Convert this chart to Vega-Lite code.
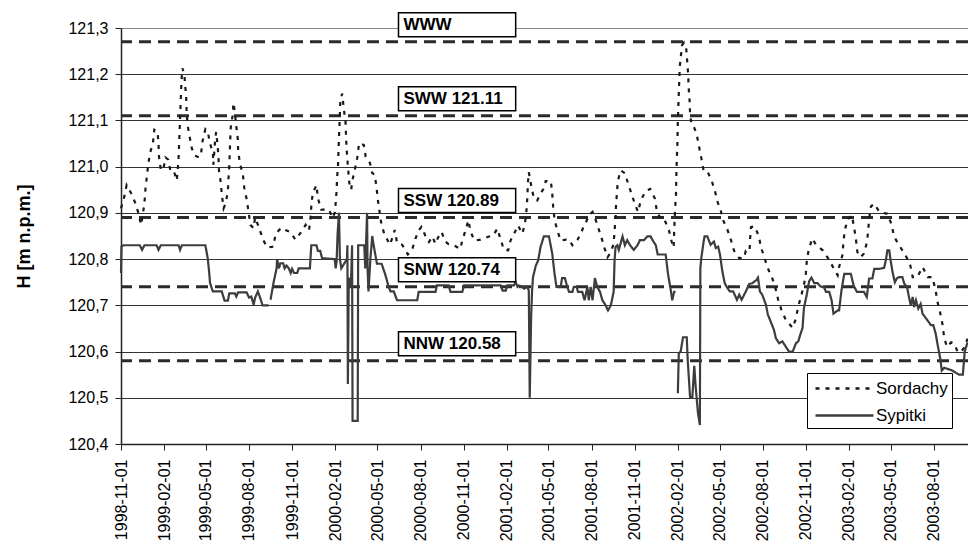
{
  "$schema": "https://vega.github.io/schema/vega-lite/v6.json",
  "width": 847,
  "height": 416,
  "autosize": {"type": "none"},
  "padding": {"left": 121, "top": 28, "right": 0, "bottom": 102},
  "background": "white",
  "config": {
    "view": {"stroke": null},
    "font": "Liberation Sans",
    "axis": {"labelFont": "Liberation Sans", "titleFont": "Liberation Sans", "labelColor": "black", "titleColor": "black"},
    "legend": {
      "orient": "none",
      "legendX": 686,
      "legendY": 345,
      "symbolType": "M-0.7,0H5.1",
      "symbolSize": 400,
      "symbolStrokeWidth": 2.5,
      "labelFontSize": 17,
      "labelFont": "Liberation Sans",
      "labelColor": "black",
      "labelOffset": 42,
      "rowPadding": 7,
      "strokeColor": "black",
      "fillColor": "white",
      "padding": 4
    }
  },
  "datasets": {
    "levels": [
      {"label": "WWW", "level": 121.27},
      {"label": "SWW 121.11", "level": 121.11},
      {"label": "SSW 120.89", "level": 120.89},
      {"label": "SNW 120.74", "level": 120.74},
      {"label": "NNW 120.58", "level": 120.58}
    ],
    "series": [
      {"station": "Sordachy", "date": "1998-11-01", "h": 120.91},
      {"station": "Sordachy", "date": "1998-11-07", "h": 120.93},
      {"station": "Sordachy", "date": "1998-11-13", "h": 120.96},
      {"station": "Sordachy", "date": "1998-11-24", "h": 120.94},
      {"station": "Sordachy", "date": "1998-12-02", "h": 120.92},
      {"station": "Sordachy", "date": "1998-12-08", "h": 120.90},
      {"station": "Sordachy", "date": "1998-12-14", "h": 120.874},
      {"station": "Sordachy", "date": "1998-12-21", "h": 120.92},
      {"station": "Sordachy", "date": "1998-12-23", "h": 120.95},
      {"station": "Sordachy", "date": "1998-12-26", "h": 120.977},
      {"station": "Sordachy", "date": "1998-12-29", "h": 121.004},
      {"station": "Sordachy", "date": "1999-01-02", "h": 121.03},
      {"station": "Sordachy", "date": "1999-01-08", "h": 121.05},
      {"station": "Sordachy", "date": "1999-01-11", "h": 121.08},
      {"station": "Sordachy", "date": "1999-01-18", "h": 121.076},
      {"station": "Sordachy", "date": "1999-01-20", "h": 121.05},
      {"station": "Sordachy", "date": "1999-01-21", "h": 121.022},
      {"station": "Sordachy", "date": "1999-01-25", "h": 120.993},
      {"station": "Sordachy", "date": "1999-01-30", "h": 120.993},
      {"station": "Sordachy", "date": "1999-02-04", "h": 121.02},
      {"station": "Sordachy", "date": "1999-02-10", "h": 121.015},
      {"station": "Sordachy", "date": "1999-02-14", "h": 120.993},
      {"station": "Sordachy", "date": "1999-02-21", "h": 120.993},
      {"station": "Sordachy", "date": "1999-02-28", "h": 120.97},
      {"station": "Sordachy", "date": "1999-03-02", "h": 120.993},
      {"station": "Sordachy", "date": "1999-03-04", "h": 121.022},
      {"station": "Sordachy", "date": "1999-03-05", "h": 121.05},
      {"station": "Sordachy", "date": "1999-03-06", "h": 121.076},
      {"station": "Sordachy", "date": "1999-03-07", "h": 121.105},
      {"station": "Sordachy", "date": "1999-03-08", "h": 121.13},
      {"station": "Sordachy", "date": "1999-03-09", "h": 121.16},
      {"station": "Sordachy", "date": "1999-03-10", "h": 121.186},
      {"station": "Sordachy", "date": "1999-03-12", "h": 121.213},
      {"station": "Sordachy", "date": "1999-03-16", "h": 121.20},
      {"station": "Sordachy", "date": "1999-03-18", "h": 121.176},
      {"station": "Sordachy", "date": "1999-03-20", "h": 121.15},
      {"station": "Sordachy", "date": "1999-03-21", "h": 121.12},
      {"station": "Sordachy", "date": "1999-03-23", "h": 121.09},
      {"station": "Sordachy", "date": "1999-03-27", "h": 121.067},
      {"station": "Sordachy", "date": "1999-04-01", "h": 121.04},
      {"station": "Sordachy", "date": "1999-04-07", "h": 121.024},
      {"station": "Sordachy", "date": "1999-04-17", "h": 121.02},
      {"station": "Sordachy", "date": "1999-04-21", "h": 121.03},
      {"station": "Sordachy", "date": "1999-04-24", "h": 121.055},
      {"station": "Sordachy", "date": "1999-04-30", "h": 121.081},
      {"station": "Sordachy", "date": "1999-05-05", "h": 121.076},
      {"station": "Sordachy", "date": "1999-05-10", "h": 121.05},
      {"station": "Sordachy", "date": "1999-05-16", "h": 121.03},
      {"station": "Sordachy", "date": "1999-05-17", "h": 121.004},
      {"station": "Sordachy", "date": "1999-05-21", "h": 121.06},
      {"station": "Sordachy", "date": "1999-05-23", "h": 121.075},
      {"station": "Sordachy", "date": "1999-05-26", "h": 121.047},
      {"station": "Sordachy", "date": "1999-05-28", "h": 121.02},
      {"station": "Sordachy", "date": "1999-05-29", "h": 120.992},
      {"station": "Sordachy", "date": "1999-06-02", "h": 120.965},
      {"station": "Sordachy", "date": "1999-06-04", "h": 120.94},
      {"station": "Sordachy", "date": "1999-06-08", "h": 120.91},
      {"station": "Sordachy", "date": "1999-06-12", "h": 120.92},
      {"station": "Sordachy", "date": "1999-06-17", "h": 120.946},
      {"station": "Sordachy", "date": "1999-06-18", "h": 120.97},
      {"station": "Sordachy", "date": "1999-06-20", "h": 121.0},
      {"station": "Sordachy", "date": "1999-06-21", "h": 121.03},
      {"station": "Sordachy", "date": "1999-06-22", "h": 121.057},
      {"station": "Sordachy", "date": "1999-06-23", "h": 121.084},
      {"station": "Sordachy", "date": "1999-06-27", "h": 121.11},
      {"station": "Sordachy", "date": "1999-06-29", "h": 121.138},
      {"station": "Sordachy", "date": "1999-07-02", "h": 121.116},
      {"station": "Sordachy", "date": "1999-07-05", "h": 121.087},
      {"station": "Sordachy", "date": "1999-07-08", "h": 121.062},
      {"station": "Sordachy", "date": "1999-07-09", "h": 121.033},
      {"station": "Sordachy", "date": "1999-07-13", "h": 121.006},
      {"station": "Sordachy", "date": "1999-07-19", "h": 120.983},
      {"station": "Sordachy", "date": "1999-07-22", "h": 120.954},
      {"station": "Sordachy", "date": "1999-07-27", "h": 120.93},
      {"station": "Sordachy", "date": "1999-07-31", "h": 120.903},
      {"station": "Sordachy", "date": "1999-08-04", "h": 120.874},
      {"station": "Sordachy", "date": "1999-08-11", "h": 120.867},
      {"station": "Sordachy", "date": "1999-08-14", "h": 120.89},
      {"station": "Sordachy", "date": "1999-08-23", "h": 120.867},
      {"station": "Sordachy", "date": "1999-08-30", "h": 120.844},
      {"station": "Sordachy", "date": "1999-09-09", "h": 120.825},
      {"station": "Sordachy", "date": "1999-09-22", "h": 120.827},
      {"station": "Sordachy", "date": "1999-09-27", "h": 120.855},
      {"station": "Sordachy", "date": "1999-10-09", "h": 120.868},
      {"station": "Sordachy", "date": "1999-10-18", "h": 120.863},
      {"station": "Sordachy", "date": "1999-10-29", "h": 120.858},
      {"station": "Sordachy", "date": "1999-11-08", "h": 120.842},
      {"station": "Sordachy", "date": "1999-11-20", "h": 120.858},
      {"station": "Sordachy", "date": "1999-11-30", "h": 120.874},
      {"station": "Sordachy", "date": "1999-12-07", "h": 120.862},
      {"station": "Sordachy", "date": "1999-12-10", "h": 120.885},
      {"station": "Sordachy", "date": "1999-12-12", "h": 120.914},
      {"station": "Sordachy", "date": "1999-12-15", "h": 120.943},
      {"station": "Sordachy", "date": "1999-12-23", "h": 120.96},
      {"station": "Sordachy", "date": "1999-12-26", "h": 120.932},
      {"station": "Sordachy", "date": "2000-01-02", "h": 120.907},
      {"station": "Sordachy", "date": "2000-01-19", "h": 120.907},
      {"station": "Sordachy", "date": "2000-01-26", "h": 120.889},
      {"station": "Sordachy", "date": "2000-01-31", "h": 120.90},
      {"station": "Sordachy", "date": "2000-02-02", "h": 120.921},
      {"station": "Sordachy", "date": "2000-02-04", "h": 120.949},
      {"station": "Sordachy", "date": "2000-02-05", "h": 120.975},
      {"station": "Sordachy", "date": "2000-02-07", "h": 121.004},
      {"station": "Sordachy", "date": "2000-02-08", "h": 121.033},
      {"station": "Sordachy", "date": "2000-02-09", "h": 121.062},
      {"station": "Sordachy", "date": "2000-02-10", "h": 121.087},
      {"station": "Sordachy", "date": "2000-02-11", "h": 121.114},
      {"station": "Sordachy", "date": "2000-02-12", "h": 121.145},
      {"station": "Sordachy", "date": "2000-02-16", "h": 121.158},
      {"station": "Sordachy", "date": "2000-02-19", "h": 121.127},
      {"station": "Sordachy", "date": "2000-02-23", "h": 121.098},
      {"station": "Sordachy", "date": "2000-02-24", "h": 121.07},
      {"station": "Sordachy", "date": "2000-02-25", "h": 121.044},
      {"station": "Sordachy", "date": "2000-02-27", "h": 121.015},
      {"station": "Sordachy", "date": "2000-02-29", "h": 120.99},
      {"station": "Sordachy", "date": "2000-03-02", "h": 120.965},
      {"station": "Sordachy", "date": "2000-03-06", "h": 120.95},
      {"station": "Sordachy", "date": "2000-03-09", "h": 120.972},
      {"station": "Sordachy", "date": "2000-03-13", "h": 120.99},
      {"station": "Sordachy", "date": "2000-03-19", "h": 121.019},
      {"station": "Sordachy", "date": "2000-03-23", "h": 121.051},
      {"station": "Sordachy", "date": "2000-04-02", "h": 121.047},
      {"station": "Sordachy", "date": "2000-04-06", "h": 121.022},
      {"station": "Sordachy", "date": "2000-04-15", "h": 121.008},
      {"station": "Sordachy", "date": "2000-04-20", "h": 120.986},
      {"station": "Sordachy", "date": "2000-04-25", "h": 120.983},
      {"station": "Sordachy", "date": "2000-04-29", "h": 120.957},
      {"station": "Sordachy", "date": "2000-05-02", "h": 120.928},
      {"station": "Sordachy", "date": "2000-05-06", "h": 120.90},
      {"station": "Sordachy", "date": "2000-05-09", "h": 120.879},
      {"station": "Sordachy", "date": "2000-05-16", "h": 120.853},
      {"station": "Sordachy", "date": "2000-05-28", "h": 120.831},
      {"station": "Sordachy", "date": "2000-06-02", "h": 120.847},
      {"station": "Sordachy", "date": "2000-06-07", "h": 120.863},
      {"station": "Sordachy", "date": "2000-06-12", "h": 120.835},
      {"station": "Sordachy", "date": "2000-06-23", "h": 120.831},
      {"station": "Sordachy", "date": "2000-07-05", "h": 120.81},
      {"station": "Sordachy", "date": "2000-07-14", "h": 120.82},
      {"station": "Sordachy", "date": "2000-07-21", "h": 120.844},
      {"station": "Sordachy", "date": "2000-07-28", "h": 120.862},
      {"station": "Sordachy", "date": "2000-08-03", "h": 120.87},
      {"station": "Sordachy", "date": "2000-08-08", "h": 120.859},
      {"station": "Sordachy", "date": "2000-08-12", "h": 120.848},
      {"station": "Sordachy", "date": "2000-08-19", "h": 120.837},
      {"station": "Sordachy", "date": "2000-08-26", "h": 120.849},
      {"station": "Sordachy", "date": "2000-09-02", "h": 120.833},
      {"station": "Sordachy", "date": "2000-09-07", "h": 120.846},
      {"station": "Sordachy", "date": "2000-09-15", "h": 120.859},
      {"station": "Sordachy", "date": "2000-09-22", "h": 120.839},
      {"station": "Sordachy", "date": "2000-09-30", "h": 120.832},
      {"station": "Sordachy", "date": "2000-10-11", "h": 120.83},
      {"station": "Sordachy", "date": "2000-10-25", "h": 120.822},
      {"station": "Sordachy", "date": "2000-10-29", "h": 120.84},
      {"station": "Sordachy", "date": "2000-11-05", "h": 120.862},
      {"station": "Sordachy", "date": "2000-11-11", "h": 120.884},
      {"station": "Sordachy", "date": "2000-11-16", "h": 120.859},
      {"station": "Sordachy", "date": "2000-11-24", "h": 120.84},
      {"station": "Sordachy", "date": "2000-12-07", "h": 120.842},
      {"station": "Sordachy", "date": "2000-12-25", "h": 120.849},
      {"station": "Sordachy", "date": "2001-01-03", "h": 120.851},
      {"station": "Sordachy", "date": "2001-01-12", "h": 120.866},
      {"station": "Sordachy", "date": "2001-01-19", "h": 120.842},
      {"station": "Sordachy", "date": "2001-01-26", "h": 120.82},
      {"station": "Sordachy", "date": "2001-02-04", "h": 120.819},
      {"station": "Sordachy", "date": "2001-02-09", "h": 120.84},
      {"station": "Sordachy", "date": "2001-02-20", "h": 120.862},
      {"station": "Sordachy", "date": "2001-02-25", "h": 120.873},
      {"station": "Sordachy", "date": "2001-03-06", "h": 120.855},
      {"station": "Sordachy", "date": "2001-03-11", "h": 120.873},
      {"station": "Sordachy", "date": "2001-03-13", "h": 120.887},
      {"station": "Sordachy", "date": "2001-03-15", "h": 120.905},
      {"station": "Sordachy", "date": "2001-03-17", "h": 120.934},
      {"station": "Sordachy", "date": "2001-03-18", "h": 120.963},
      {"station": "Sordachy", "date": "2001-03-20", "h": 120.988},
      {"station": "Sordachy", "date": "2001-03-25", "h": 120.96},
      {"station": "Sordachy", "date": "2001-03-31", "h": 120.931},
      {"station": "Sordachy", "date": "2001-04-07", "h": 120.927},
      {"station": "Sordachy", "date": "2001-04-14", "h": 120.942},
      {"station": "Sordachy", "date": "2001-04-23", "h": 120.956},
      {"station": "Sordachy", "date": "2001-04-25", "h": 120.969},
      {"station": "Sordachy", "date": "2001-05-06", "h": 120.969},
      {"station": "Sordachy", "date": "2001-05-09", "h": 120.942},
      {"station": "Sordachy", "date": "2001-05-11", "h": 120.913},
      {"station": "Sordachy", "date": "2001-05-14", "h": 120.885},
      {"station": "Sordachy", "date": "2001-05-20", "h": 120.862},
      {"station": "Sordachy", "date": "2001-05-27", "h": 120.84},
      {"station": "Sordachy", "date": "2001-06-07", "h": 120.842},
      {"station": "Sordachy", "date": "2001-06-14", "h": 120.842},
      {"station": "Sordachy", "date": "2001-06-21", "h": 120.83},
      {"station": "Sordachy", "date": "2001-07-02", "h": 120.842},
      {"station": "Sordachy", "date": "2001-07-09", "h": 120.855},
      {"station": "Sordachy", "date": "2001-07-14", "h": 120.868},
      {"station": "Sordachy", "date": "2001-07-19", "h": 120.877},
      {"station": "Sordachy", "date": "2001-07-26", "h": 120.895},
      {"station": "Sordachy", "date": "2001-08-03", "h": 120.902},
      {"station": "Sordachy", "date": "2001-08-10", "h": 120.884},
      {"station": "Sordachy", "date": "2001-08-17", "h": 120.862},
      {"station": "Sordachy", "date": "2001-08-24", "h": 120.84},
      {"station": "Sordachy", "date": "2001-08-29", "h": 120.822},
      {"station": "Sordachy", "date": "2001-09-04", "h": 120.804},
      {"station": "Sordachy", "date": "2001-09-11", "h": 120.815},
      {"station": "Sordachy", "date": "2001-09-17", "h": 120.833},
      {"station": "Sordachy", "date": "2001-09-19", "h": 120.862},
      {"station": "Sordachy", "date": "2001-09-21", "h": 120.887},
      {"station": "Sordachy", "date": "2001-09-22", "h": 120.914},
      {"station": "Sordachy", "date": "2001-09-24", "h": 120.943},
      {"station": "Sordachy", "date": "2001-09-26", "h": 120.969},
      {"station": "Sordachy", "date": "2001-10-02", "h": 120.992},
      {"station": "Sordachy", "date": "2001-10-11", "h": 120.986},
      {"station": "Sordachy", "date": "2001-10-18", "h": 120.963},
      {"station": "Sordachy", "date": "2001-10-25", "h": 120.942},
      {"station": "Sordachy", "date": "2001-11-01", "h": 120.92},
      {"station": "Sordachy", "date": "2001-11-08", "h": 120.902},
      {"station": "Sordachy", "date": "2001-11-14", "h": 120.927},
      {"station": "Sordachy", "date": "2001-11-24", "h": 120.947},
      {"station": "Sordachy", "date": "2001-12-04", "h": 120.952},
      {"station": "Sordachy", "date": "2001-12-14", "h": 120.931},
      {"station": "Sordachy", "date": "2001-12-18", "h": 120.905},
      {"station": "Sordachy", "date": "2001-12-27", "h": 120.885},
      {"station": "Sordachy", "date": "2002-01-04", "h": 120.884},
      {"station": "Sordachy", "date": "2002-01-13", "h": 120.862},
      {"station": "Sordachy", "date": "2002-01-19", "h": 120.837},
      {"station": "Sordachy", "date": "2002-01-23", "h": 120.825},
      {"station": "Sordachy", "date": "2002-01-24", "h": 120.855},
      {"station": "Sordachy", "date": "2002-01-25", "h": 120.882},
      {"station": "Sordachy", "date": "2002-01-26", "h": 120.906},
      {"station": "Sordachy", "date": "2002-01-28", "h": 120.94},
      {"station": "Sordachy", "date": "2002-01-29", "h": 120.993},
      {"station": "Sordachy", "date": "2002-01-31", "h": 121.05},
      {"station": "Sordachy", "date": "2002-02-01", "h": 121.1},
      {"station": "Sordachy", "date": "2002-02-03", "h": 121.159},
      {"station": "Sordachy", "date": "2002-02-05", "h": 121.216},
      {"station": "Sordachy", "date": "2002-02-10", "h": 121.263},
      {"station": "Sordachy", "date": "2002-02-14", "h": 121.268},
      {"station": "Sordachy", "date": "2002-02-19", "h": 121.254},
      {"station": "Sordachy", "date": "2002-02-21", "h": 121.227},
      {"station": "Sordachy", "date": "2002-02-23", "h": 121.2},
      {"station": "Sordachy", "date": "2002-02-24", "h": 121.172},
      {"station": "Sordachy", "date": "2002-02-26", "h": 121.144},
      {"station": "Sordachy", "date": "2002-02-27", "h": 121.116},
      {"station": "Sordachy", "date": "2002-03-02", "h": 121.091},
      {"station": "Sordachy", "date": "2002-03-08", "h": 121.084},
      {"station": "Sordachy", "date": "2002-03-13", "h": 121.071},
      {"station": "Sordachy", "date": "2002-03-18", "h": 121.044},
      {"station": "Sordachy", "date": "2002-03-23", "h": 121.019},
      {"station": "Sordachy", "date": "2002-03-28", "h": 120.991},
      {"station": "Sordachy", "date": "2002-04-05", "h": 120.99},
      {"station": "Sordachy", "date": "2002-04-14", "h": 120.97},
      {"station": "Sordachy", "date": "2002-04-21", "h": 120.948},
      {"station": "Sordachy", "date": "2002-04-27", "h": 120.923},
      {"station": "Sordachy", "date": "2002-05-04", "h": 120.903},
      {"station": "Sordachy", "date": "2002-05-09", "h": 120.883},
      {"station": "Sordachy", "date": "2002-05-18", "h": 120.863},
      {"station": "Sordachy", "date": "2002-05-25", "h": 120.842},
      {"station": "Sordachy", "date": "2002-06-01", "h": 120.818},
      {"station": "Sordachy", "date": "2002-06-12", "h": 120.802},
      {"station": "Sordachy", "date": "2002-06-22", "h": 120.802},
      {"station": "Sordachy", "date": "2002-06-26", "h": 120.818},
      {"station": "Sordachy", "date": "2002-07-04", "h": 120.817},
      {"station": "Sordachy", "date": "2002-07-05", "h": 120.842},
      {"station": "Sordachy", "date": "2002-07-07", "h": 120.869},
      {"station": "Sordachy", "date": "2002-07-15", "h": 120.871},
      {"station": "Sordachy", "date": "2002-07-24", "h": 120.849},
      {"station": "Sordachy", "date": "2002-07-28", "h": 120.827},
      {"station": "Sordachy", "date": "2002-08-05", "h": 120.802},
      {"station": "Sordachy", "date": "2002-08-12", "h": 120.78},
      {"station": "Sordachy", "date": "2002-08-22", "h": 120.757},
      {"station": "Sordachy", "date": "2002-08-29", "h": 120.734},
      {"station": "Sordachy", "date": "2002-09-03", "h": 120.712},
      {"station": "Sordachy", "date": "2002-09-10", "h": 120.69},
      {"station": "Sordachy", "date": "2002-09-19", "h": 120.669},
      {"station": "Sordachy", "date": "2002-10-04", "h": 120.651},
      {"station": "Sordachy", "date": "2002-10-11", "h": 120.672},
      {"station": "Sordachy", "date": "2002-10-15", "h": 120.694},
      {"station": "Sordachy", "date": "2002-10-23", "h": 120.724},
      {"station": "Sordachy", "date": "2002-10-28", "h": 120.744},
      {"station": "Sordachy", "date": "2002-11-01", "h": 120.768},
      {"station": "Sordachy", "date": "2002-11-03", "h": 120.795},
      {"station": "Sordachy", "date": "2002-11-07", "h": 120.82},
      {"station": "Sordachy", "date": "2002-11-15", "h": 120.845},
      {"station": "Sordachy", "date": "2002-11-22", "h": 120.832},
      {"station": "Sordachy", "date": "2002-12-07", "h": 120.819},
      {"station": "Sordachy", "date": "2002-12-19", "h": 120.801},
      {"station": "Sordachy", "date": "2002-12-30", "h": 120.781},
      {"station": "Sordachy", "date": "2003-01-08", "h": 120.765},
      {"station": "Sordachy", "date": "2003-01-11", "h": 120.783},
      {"station": "Sordachy", "date": "2003-01-18", "h": 120.808},
      {"station": "Sordachy", "date": "2003-01-20", "h": 120.833},
      {"station": "Sordachy", "date": "2003-01-23", "h": 120.862},
      {"station": "Sordachy", "date": "2003-01-29", "h": 120.885},
      {"station": "Sordachy", "date": "2003-02-07", "h": 120.895},
      {"station": "Sordachy", "date": "2003-02-12", "h": 120.869},
      {"station": "Sordachy", "date": "2003-02-16", "h": 120.842},
      {"station": "Sordachy", "date": "2003-02-19", "h": 120.815},
      {"station": "Sordachy", "date": "2003-02-26", "h": 120.804},
      {"station": "Sordachy", "date": "2003-03-05", "h": 120.812},
      {"station": "Sordachy", "date": "2003-03-11", "h": 120.835},
      {"station": "Sordachy", "date": "2003-03-14", "h": 120.859},
      {"station": "Sordachy", "date": "2003-03-16", "h": 120.887},
      {"station": "Sordachy", "date": "2003-03-20", "h": 120.914},
      {"station": "Sordachy", "date": "2003-03-27", "h": 120.92},
      {"station": "Sordachy", "date": "2003-04-07", "h": 120.902},
      {"station": "Sordachy", "date": "2003-04-24", "h": 120.898},
      {"station": "Sordachy", "date": "2003-05-03", "h": 120.875},
      {"station": "Sordachy", "date": "2003-05-08", "h": 120.849},
      {"station": "Sordachy", "date": "2003-05-19", "h": 120.83},
      {"station": "Sordachy", "date": "2003-06-02", "h": 120.808},
      {"station": "Sordachy", "date": "2003-06-12", "h": 120.786},
      {"station": "Sordachy", "date": "2003-06-17", "h": 120.761},
      {"station": "Sordachy", "date": "2003-06-27", "h": 120.761},
      {"station": "Sordachy", "date": "2003-07-08", "h": 120.783},
      {"station": "Sordachy", "date": "2003-07-19", "h": 120.761},
      {"station": "Sordachy", "date": "2003-07-29", "h": 120.761},
      {"station": "Sordachy", "date": "2003-08-05", "h": 120.732},
      {"station": "Sordachy", "date": "2003-08-09", "h": 120.707},
      {"station": "Sordachy", "date": "2003-08-15", "h": 120.682},
      {"station": "Sordachy", "date": "2003-08-20", "h": 120.657},
      {"station": "Sordachy", "date": "2003-08-23", "h": 120.631},
      {"station": "Sordachy", "date": "2003-08-29", "h": 120.61},
      {"station": "Sordachy", "date": "2003-09-07", "h": 120.62},
      {"station": "Sordachy", "date": "2003-09-14", "h": 120.617},
      {"station": "Sordachy", "date": "2003-09-21", "h": 120.599},
      {"station": "Sordachy", "date": "2003-09-28", "h": 120.599},
      {"station": "Sordachy", "date": "2003-10-06", "h": 120.61},
      {"station": "Sordachy", "date": "2003-10-12", "h": 120.628},
      {"station": "Sypitki", "date": "1998-11-01", "h": 120.77},
      {"station": "Sypitki", "date": "1998-11-02", "h": 120.827},
      {"station": "Sypitki", "date": "1998-11-06", "h": 120.83},
      {"station": "Sypitki", "date": "1998-12-11", "h": 120.83},
      {"station": "Sypitki", "date": "1998-12-16", "h": 120.82},
      {"station": "Sypitki", "date": "1998-12-21", "h": 120.83},
      {"station": "Sypitki", "date": "1999-01-16", "h": 120.83},
      {"station": "Sypitki", "date": "1999-01-20", "h": 120.82},
      {"station": "Sypitki", "date": "1999-01-25", "h": 120.83},
      {"station": "Sypitki", "date": "1999-03-04", "h": 120.83},
      {"station": "Sypitki", "date": "1999-03-07", "h": 120.82},
      {"station": "Sypitki", "date": "1999-03-11", "h": 120.83},
      {"station": "Sypitki", "date": "1999-04-30", "h": 120.83},
      {"station": "Sypitki", "date": "1999-05-05", "h": 120.802},
      {"station": "Sypitki", "date": "1999-05-08", "h": 120.773},
      {"station": "Sypitki", "date": "1999-05-10", "h": 120.748},
      {"station": "Sypitki", "date": "1999-05-16", "h": 120.73},
      {"station": "Sypitki", "date": "1999-06-04", "h": 120.73},
      {"station": "Sypitki", "date": "1999-06-10", "h": 120.71},
      {"station": "Sypitki", "date": "1999-06-17", "h": 120.71},
      {"station": "Sypitki", "date": "1999-06-20", "h": 120.726},
      {"station": "Sypitki", "date": "1999-07-02", "h": 120.726},
      {"station": "Sypitki", "date": "1999-07-05", "h": 120.719},
      {"station": "Sypitki", "date": "1999-07-09", "h": 120.728},
      {"station": "Sypitki", "date": "1999-07-27", "h": 120.728},
      {"station": "Sypitki", "date": "1999-08-01", "h": 120.717},
      {"station": "Sypitki", "date": "1999-08-06", "h": 120.719},
      {"station": "Sypitki", "date": "1999-08-11", "h": 120.701},
      {"station": "Sypitki", "date": "1999-08-14", "h": 120.716},
      {"station": "Sypitki", "date": "1999-08-20", "h": 120.73},
      {"station": "Sypitki", "date": "1999-08-25", "h": 120.716},
      {"station": "Sypitki", "date": "1999-08-30", "h": 120.70},
      {"station": "Sypitki", "date": "1999-09-12", "h": 120.70},
      {"station": "Sypitki", "date": "1999-09-14", "h": null},
      {"station": "Sypitki", "date": "1999-09-16", "h": 120.712},
      {"station": "Sypitki", "date": "1999-09-23", "h": 120.752},
      {"station": "Sypitki", "date": "1999-09-29", "h": 120.78},
      {"station": "Sypitki", "date": "1999-09-30", "h": 120.80},
      {"station": "Sypitki", "date": "1999-10-04", "h": 120.78},
      {"station": "Sypitki", "date": "1999-10-07", "h": 120.791},
      {"station": "Sypitki", "date": "1999-10-13", "h": 120.791},
      {"station": "Sypitki", "date": "1999-10-16", "h": 120.78},
      {"station": "Sypitki", "date": "1999-10-20", "h": 120.786},
      {"station": "Sypitki", "date": "1999-10-25", "h": 120.78},
      {"station": "Sypitki", "date": "1999-10-29", "h": 120.77},
      {"station": "Sypitki", "date": "1999-11-01", "h": 120.779},
      {"station": "Sypitki", "date": "1999-11-05", "h": 120.77},
      {"station": "Sypitki", "date": "1999-11-12", "h": 120.77},
      {"station": "Sypitki", "date": "1999-11-15", "h": 120.78},
      {"station": "Sypitki", "date": "1999-12-09", "h": 120.78},
      {"station": "Sypitki", "date": "1999-12-12", "h": 120.83},
      {"station": "Sypitki", "date": "1999-12-23", "h": 120.83},
      {"station": "Sypitki", "date": "1999-12-26", "h": 120.818},
      {"station": "Sypitki", "date": "1999-12-31", "h": 120.818},
      {"station": "Sypitki", "date": "2000-01-04", "h": 120.802},
      {"station": "Sypitki", "date": "2000-01-31", "h": 120.80},
      {"station": "Sypitki", "date": "2000-02-02", "h": 120.78},
      {"station": "Sypitki", "date": "2000-02-04", "h": 120.795},
      {"station": "Sypitki", "date": "2000-02-06", "h": 120.853},
      {"station": "Sypitki", "date": "2000-02-09", "h": 120.90},
      {"station": "Sypitki", "date": "2000-02-11", "h": 120.80},
      {"station": "Sypitki", "date": "2000-02-14", "h": 120.78},
      {"station": "Sypitki", "date": "2000-02-26", "h": 120.80},
      {"station": "Sypitki", "date": "2000-02-27", "h": 120.83},
      {"station": "Sypitki", "date": "2000-02-28", "h": 120.53},
      {"station": "Sypitki", "date": "2000-03-01", "h": 120.76},
      {"station": "Sypitki", "date": "2000-03-03", "h": 120.74},
      {"station": "Sypitki", "date": "2000-03-06", "h": 120.76},
      {"station": "Sypitki", "date": "2000-03-08", "h": 120.83},
      {"station": "Sypitki", "date": "2000-03-09", "h": 120.45},
      {"station": "Sypitki", "date": "2000-03-20", "h": 120.45},
      {"station": "Sypitki", "date": "2000-03-21", "h": 120.83},
      {"station": "Sypitki", "date": "2000-04-03", "h": 120.83},
      {"station": "Sypitki", "date": "2000-04-05", "h": 120.78},
      {"station": "Sypitki", "date": "2000-04-09", "h": 120.90},
      {"station": "Sypitki", "date": "2000-04-10", "h": 120.78},
      {"station": "Sypitki", "date": "2000-04-12", "h": 120.73},
      {"station": "Sypitki", "date": "2000-04-16", "h": 120.80},
      {"station": "Sypitki", "date": "2000-04-20", "h": 120.85},
      {"station": "Sypitki", "date": "2000-04-23", "h": 120.83},
      {"station": "Sypitki", "date": "2000-04-30", "h": 120.79},
      {"station": "Sypitki", "date": "2000-05-10", "h": 120.79},
      {"station": "Sypitki", "date": "2000-05-18", "h": 120.766},
      {"station": "Sypitki", "date": "2000-05-25", "h": 120.74},
      {"station": "Sypitki", "date": "2000-05-29", "h": 120.73},
      {"station": "Sypitki", "date": "2000-06-05", "h": 120.73},
      {"station": "Sypitki", "date": "2000-06-09", "h": 120.719},
      {"station": "Sypitki", "date": "2000-06-12", "h": 120.711},
      {"station": "Sypitki", "date": "2000-07-25", "h": 120.711},
      {"station": "Sypitki", "date": "2000-07-28", "h": 120.729},
      {"station": "Sypitki", "date": "2000-09-02", "h": 120.729},
      {"station": "Sypitki", "date": "2000-09-05", "h": 120.743},
      {"station": "Sypitki", "date": "2000-09-30", "h": 120.743},
      {"station": "Sypitki", "date": "2000-10-04", "h": 120.729},
      {"station": "Sypitki", "date": "2000-10-29", "h": 120.729},
      {"station": "Sypitki", "date": "2000-11-02", "h": 120.743},
      {"station": "Sypitki", "date": "2001-01-19", "h": 120.743},
      {"station": "Sypitki", "date": "2001-01-23", "h": 120.732},
      {"station": "Sypitki", "date": "2001-01-30", "h": 120.732},
      {"station": "Sypitki", "date": "2001-02-02", "h": 120.743},
      {"station": "Sypitki", "date": "2001-02-16", "h": 120.743},
      {"station": "Sypitki", "date": "2001-02-20", "h": 120.75},
      {"station": "Sypitki", "date": "2001-02-24", "h": 120.74},
      {"station": "Sypitki", "date": "2001-02-27", "h": 120.743},
      {"station": "Sypitki", "date": "2001-03-06", "h": 120.74},
      {"station": "Sypitki", "date": "2001-03-10", "h": 120.736},
      {"station": "Sypitki", "date": "2001-03-17", "h": 120.74},
      {"station": "Sypitki", "date": "2001-03-20", "h": 120.732},
      {"station": "Sypitki", "date": "2001-03-22", "h": 120.50},
      {"station": "Sypitki", "date": "2001-03-25", "h": 120.675},
      {"station": "Sypitki", "date": "2001-03-27", "h": 120.732},
      {"station": "Sypitki", "date": "2001-03-29", "h": 120.761},
      {"station": "Sypitki", "date": "2001-04-04", "h": 120.786},
      {"station": "Sypitki", "date": "2001-04-09", "h": 120.797},
      {"station": "Sypitki", "date": "2001-04-14", "h": 120.826},
      {"station": "Sypitki", "date": "2001-04-21", "h": 120.849},
      {"station": "Sypitki", "date": "2001-05-02", "h": 120.849},
      {"station": "Sypitki", "date": "2001-05-09", "h": 120.812},
      {"station": "Sypitki", "date": "2001-05-14", "h": 120.768},
      {"station": "Sypitki", "date": "2001-05-18", "h": 120.74},
      {"station": "Sypitki", "date": "2001-05-27", "h": 120.74},
      {"station": "Sypitki", "date": "2001-05-30", "h": 120.759},
      {"station": "Sypitki", "date": "2001-06-05", "h": 120.759},
      {"station": "Sypitki", "date": "2001-06-10", "h": 120.74},
      {"station": "Sypitki", "date": "2001-06-14", "h": 120.729},
      {"station": "Sypitki", "date": "2001-06-21", "h": 120.729},
      {"station": "Sypitki", "date": "2001-06-24", "h": 120.74},
      {"station": "Sypitki", "date": "2001-06-30", "h": 120.74},
      {"station": "Sypitki", "date": "2001-07-03", "h": 120.729},
      {"station": "Sypitki", "date": "2001-07-12", "h": 120.729},
      {"station": "Sypitki", "date": "2001-07-17", "h": 120.711},
      {"station": "Sypitki", "date": "2001-07-23", "h": 120.74},
      {"station": "Sypitki", "date": "2001-07-26", "h": 120.711},
      {"station": "Sypitki", "date": "2001-07-30", "h": 120.74},
      {"station": "Sypitki", "date": "2001-08-03", "h": 120.711},
      {"station": "Sypitki", "date": "2001-08-08", "h": 120.759},
      {"station": "Sypitki", "date": "2001-08-13", "h": 120.74},
      {"station": "Sypitki", "date": "2001-08-19", "h": 120.729},
      {"station": "Sypitki", "date": "2001-08-24", "h": 120.711},
      {"station": "Sypitki", "date": "2001-08-31", "h": 120.70},
      {"station": "Sypitki", "date": "2001-09-05", "h": 120.689},
      {"station": "Sypitki", "date": "2001-09-11", "h": 120.70},
      {"station": "Sypitki", "date": "2001-09-17", "h": 120.729},
      {"station": "Sypitki", "date": "2001-09-19", "h": 120.797},
      {"station": "Sypitki", "date": "2001-09-21", "h": 120.826},
      {"station": "Sypitki", "date": "2001-09-25", "h": 120.83},
      {"station": "Sypitki", "date": "2001-09-28", "h": 120.82},
      {"station": "Sypitki", "date": "2001-10-06", "h": 120.849},
      {"station": "Sypitki", "date": "2001-10-11", "h": 120.83},
      {"station": "Sypitki", "date": "2001-10-16", "h": 120.841},
      {"station": "Sypitki", "date": "2001-10-22", "h": 120.83},
      {"station": "Sypitki", "date": "2001-10-30", "h": 120.82},
      {"station": "Sypitki", "date": "2001-11-07", "h": 120.83},
      {"station": "Sypitki", "date": "2001-11-12", "h": 120.841},
      {"station": "Sypitki", "date": "2001-11-21", "h": 120.841},
      {"station": "Sypitki", "date": "2001-11-28", "h": 120.849},
      {"station": "Sypitki", "date": "2001-12-05", "h": 120.849},
      {"station": "Sypitki", "date": "2001-12-09", "h": 120.841},
      {"station": "Sypitki", "date": "2001-12-16", "h": 120.83},
      {"station": "Sypitki", "date": "2001-12-20", "h": 120.81},
      {"station": "Sypitki", "date": "2002-01-06", "h": 120.81},
      {"station": "Sypitki", "date": "2002-01-11", "h": 120.768},
      {"station": "Sypitki", "date": "2002-01-17", "h": 120.732},
      {"station": "Sypitki", "date": "2002-01-20", "h": 120.711},
      {"station": "Sypitki", "date": "2002-01-24", "h": 120.729},
      {"station": "Sypitki", "date": "2002-01-27", "h": 120.729},
      {"station": "Sypitki", "date": "2002-01-29", "h": null},
      {"station": "Sypitki", "date": "2002-02-01", "h": 120.51},
      {"station": "Sypitki", "date": "2002-02-03", "h": 120.596},
      {"station": "Sypitki", "date": "2002-02-07", "h": 120.60},
      {"station": "Sypitki", "date": "2002-02-12", "h": 120.631},
      {"station": "Sypitki", "date": "2002-02-20", "h": 120.631},
      {"station": "Sypitki", "date": "2002-02-22", "h": 120.582},
      {"station": "Sypitki", "date": "2002-02-27", "h": 120.502},
      {"station": "Sypitki", "date": "2002-03-04", "h": 120.502},
      {"station": "Sypitki", "date": "2002-03-08", "h": 120.569},
      {"station": "Sypitki", "date": "2002-03-11", "h": 120.524},
      {"station": "Sypitki", "date": "2002-03-16", "h": 120.466},
      {"station": "Sypitki", "date": "2002-03-20", "h": 120.441},
      {"station": "Sypitki", "date": "2002-03-21", "h": 120.78},
      {"station": "Sypitki", "date": "2002-03-23", "h": 120.802},
      {"station": "Sypitki", "date": "2002-03-28", "h": 120.838},
      {"station": "Sypitki", "date": "2002-03-30", "h": 120.849},
      {"station": "Sypitki", "date": "2002-04-05", "h": 120.849},
      {"station": "Sypitki", "date": "2002-04-09", "h": 120.838},
      {"station": "Sypitki", "date": "2002-04-12", "h": 120.831},
      {"station": "Sypitki", "date": "2002-04-19", "h": 120.838},
      {"station": "Sypitki", "date": "2002-04-23", "h": 120.824},
      {"station": "Sypitki", "date": "2002-04-28", "h": 120.827},
      {"station": "Sypitki", "date": "2002-05-02", "h": 120.809},
      {"station": "Sypitki", "date": "2002-05-07", "h": 120.773},
      {"station": "Sypitki", "date": "2002-05-12", "h": 120.748},
      {"station": "Sypitki", "date": "2002-05-18", "h": 120.737},
      {"station": "Sypitki", "date": "2002-05-23", "h": 120.73},
      {"station": "Sypitki", "date": "2002-05-30", "h": 120.73},
      {"station": "Sypitki", "date": "2002-06-07", "h": 120.712},
      {"station": "Sypitki", "date": "2002-06-12", "h": 120.723},
      {"station": "Sypitki", "date": "2002-06-17", "h": 120.712},
      {"station": "Sypitki", "date": "2002-06-26", "h": 120.73},
      {"station": "Sypitki", "date": "2002-07-03", "h": 120.746},
      {"station": "Sypitki", "date": "2002-07-10", "h": 120.748},
      {"station": "Sypitki", "date": "2002-07-19", "h": 120.755},
      {"station": "Sypitki", "date": "2002-07-22", "h": 120.76},
      {"station": "Sypitki", "date": "2002-07-26", "h": 120.73},
      {"station": "Sypitki", "date": "2002-07-31", "h": 120.723},
      {"station": "Sypitki", "date": "2002-08-08", "h": 120.701},
      {"station": "Sypitki", "date": "2002-08-12", "h": 120.68},
      {"station": "Sypitki", "date": "2002-08-18", "h": 120.665},
      {"station": "Sypitki", "date": "2002-08-25", "h": 120.647},
      {"station": "Sypitki", "date": "2002-08-29", "h": 120.629},
      {"station": "Sypitki", "date": "2002-09-05", "h": 120.618},
      {"station": "Sypitki", "date": "2002-09-12", "h": 120.622},
      {"station": "Sypitki", "date": "2002-09-19", "h": 120.611},
      {"station": "Sypitki", "date": "2002-09-26", "h": 120.60},
      {"station": "Sypitki", "date": "2002-10-04", "h": 120.60},
      {"station": "Sypitki", "date": "2002-10-11", "h": 120.618},
      {"station": "Sypitki", "date": "2002-10-16", "h": 120.622},
      {"station": "Sypitki", "date": "2002-10-20", "h": 120.636},
      {"station": "Sypitki", "date": "2002-10-25", "h": 120.651},
      {"station": "Sypitki", "date": "2002-10-28", "h": 120.694},
      {"station": "Sypitki", "date": "2002-11-03", "h": 120.723},
      {"station": "Sypitki", "date": "2002-11-08", "h": 120.752},
      {"station": "Sypitki", "date": "2002-11-13", "h": 120.76},
      {"station": "Sypitki", "date": "2002-11-19", "h": 120.748},
      {"station": "Sypitki", "date": "2002-11-26", "h": 120.748},
      {"station": "Sypitki", "date": "2002-12-02", "h": 120.741},
      {"station": "Sypitki", "date": "2002-12-10", "h": 120.739},
      {"station": "Sypitki", "date": "2002-12-14", "h": 120.729},
      {"station": "Sypitki", "date": "2002-12-21", "h": 120.729},
      {"station": "Sypitki", "date": "2002-12-26", "h": 120.711},
      {"station": "Sypitki", "date": "2002-12-30", "h": 120.682},
      {"station": "Sypitki", "date": "2003-01-08", "h": 120.689},
      {"station": "Sypitki", "date": "2003-01-11", "h": 120.689},
      {"station": "Sypitki", "date": "2003-01-16", "h": 120.732},
      {"station": "Sypitki", "date": "2003-01-22", "h": 120.768},
      {"station": "Sypitki", "date": "2003-02-05", "h": 120.768},
      {"station": "Sypitki", "date": "2003-02-11", "h": 120.743},
      {"station": "Sypitki", "date": "2003-02-18", "h": 120.729},
      {"station": "Sypitki", "date": "2003-03-05", "h": 120.729},
      {"station": "Sypitki", "date": "2003-03-11", "h": 120.718},
      {"station": "Sypitki", "date": "2003-03-16", "h": 120.758},
      {"station": "Sypitki", "date": "2003-03-23", "h": 120.758},
      {"station": "Sypitki", "date": "2003-03-27", "h": 120.779},
      {"station": "Sypitki", "date": "2003-04-07", "h": 120.779},
      {"station": "Sypitki", "date": "2003-04-17", "h": 120.781},
      {"station": "Sypitki", "date": "2003-04-21", "h": 120.799},
      {"station": "Sypitki", "date": "2003-04-24", "h": 120.819},
      {"station": "Sypitki", "date": "2003-04-28", "h": 120.819},
      {"station": "Sypitki", "date": "2003-05-01", "h": 120.797},
      {"station": "Sypitki", "date": "2003-05-05", "h": 120.772},
      {"station": "Sypitki", "date": "2003-05-10", "h": 120.75},
      {"station": "Sypitki", "date": "2003-05-14", "h": 120.758},
      {"station": "Sypitki", "date": "2003-05-19", "h": 120.761},
      {"station": "Sypitki", "date": "2003-05-26", "h": 120.761},
      {"station": "Sypitki", "date": "2003-05-30", "h": 120.747},
      {"station": "Sypitki", "date": "2003-06-05", "h": 120.74},
      {"station": "Sypitki", "date": "2003-06-09", "h": 120.718},
      {"station": "Sypitki", "date": "2003-06-13", "h": 120.70},
      {"station": "Sypitki", "date": "2003-06-17", "h": 120.718},
      {"station": "Sypitki", "date": "2003-06-20", "h": 120.696},
      {"station": "Sypitki", "date": "2003-06-24", "h": 120.711},
      {"station": "Sypitki", "date": "2003-06-29", "h": 120.693},
      {"station": "Sypitki", "date": "2003-07-04", "h": 120.703},
      {"station": "Sypitki", "date": "2003-07-08", "h": 120.682},
      {"station": "Sypitki", "date": "2003-07-13", "h": 120.675},
      {"station": "Sypitki", "date": "2003-07-19", "h": 120.667},
      {"station": "Sypitki", "date": "2003-07-26", "h": 120.657},
      {"station": "Sypitki", "date": "2003-07-31", "h": 120.657},
      {"station": "Sypitki", "date": "2003-08-05", "h": 120.639},
      {"station": "Sypitki", "date": "2003-08-10", "h": 120.61},
      {"station": "Sypitki", "date": "2003-08-15", "h": 120.584},
      {"station": "Sypitki", "date": "2003-08-18", "h": 120.559},
      {"station": "Sypitki", "date": "2003-08-23", "h": 120.565},
      {"station": "Sypitki", "date": "2003-09-07", "h": 120.56},
      {"station": "Sypitki", "date": "2003-09-24", "h": 120.55},
      {"station": "Sypitki", "date": "2003-10-02", "h": 120.55},
      {"station": "Sypitki", "date": "2003-10-06", "h": 120.60},
      {"station": "Sypitki", "date": "2003-10-12", "h": 120.62}
    ]
  },
  "layer": [
    {
      "data": {"name": "levels"},
      "mark": {"type": "rule", "strokeDash": [12, 7], "strokeWidth": 3, "color": "#2b2b2b"},
      "encoding": {
        "y": {
          "field": "level",
          "type": "quantitative",
          "scale": {"domain": [120.4, 121.3], "nice": false, "zero": false},
          "axis": {
            "values": [120.4, 120.5, 120.6, 120.7, 120.8, 120.9, 121.0, 121.1, 121.2, 121.3],
            "labelExpr": "replace(format(datum.value, '.1f'), '.', ',')",
            "labelFontSize": 16,
            "tickSize": 6,
            "tickColor": "#222",
            "labelPadding": 7,
            "domainColor": "#222",
            "domainWidth": 1.5,
            "grid": true,
            "gridColor": {"condition": {"test": "datum.value > 121.29", "value": "#8a8a8a"}, "value": "#333333"},
            "gridWidth": 1,
            "title": "H [m n.p.m.]",
            "titleFontSize": 18,
            "titleFontWeight": "bold",
            "titleAngle": -90,
            "titleAlign": "center",
            "titleBaseline": "alphabetic",
            "titleX": -92,
            "titleY": 208
          }
        }
      }
    },
    {
      "data": {"name": "series"},
      "mark": {"type": "line", "strokeWidth": 2.2, "invalid": "break-paths-show-domains"},
      "encoding": {
        "x": {
          "field": "date",
          "type": "temporal",
          "scale": {
            "type": "utc",
            "domain": [
              {"year": 1998, "month": 11, "date": 1, "utc": true},
              {"year": 2003, "month": 10, "date": 13, "utc": true}
            ],
            "nice": false
          },
          "axis": {
            "values": [
              {"year": 1998, "month": 11, "date": 1, "utc": true},
              {"year": 1999, "month": 2, "date": 1, "utc": true},
              {"year": 1999, "month": 5, "date": 1, "utc": true},
              {"year": 1999, "month": 8, "date": 1, "utc": true},
              {"year": 1999, "month": 11, "date": 1, "utc": true},
              {"year": 2000, "month": 2, "date": 1, "utc": true},
              {"year": 2000, "month": 5, "date": 1, "utc": true},
              {"year": 2000, "month": 8, "date": 1, "utc": true},
              {"year": 2000, "month": 11, "date": 1, "utc": true},
              {"year": 2001, "month": 2, "date": 1, "utc": true},
              {"year": 2001, "month": 5, "date": 1, "utc": true},
              {"year": 2001, "month": 8, "date": 1, "utc": true},
              {"year": 2001, "month": 11, "date": 1, "utc": true},
              {"year": 2002, "month": 2, "date": 1, "utc": true},
              {"year": 2002, "month": 5, "date": 1, "utc": true},
              {"year": 2002, "month": 8, "date": 1, "utc": true},
              {"year": 2002, "month": 11, "date": 1, "utc": true},
              {"year": 2003, "month": 2, "date": 1, "utc": true},
              {"year": 2003, "month": 5, "date": 1, "utc": true},
              {"year": 2003, "month": 8, "date": 1, "utc": true}
            ],
            "format": "%Y-%m-%d",
            "labelAngle": -90,
            "labelFontSize": 16,
            "labelOverlap": false,
            "labelFlush": false,
            "labelPadding": 9,
            "tickSize": 6,
            "tickColor": "#222",
            "domainColor": "#222",
            "domainWidth": 1.5,
            "grid": false,
            "title": null
          }
        },
        "y": {"field": "h", "type": "quantitative"},
        "color": {
          "field": "station",
          "type": "nominal",
          "scale": {"domain": ["Sordachy", "Sypitki"], "range": ["#1a1a1a", "#3d3d3d"]},
          "legend": {"title": null}
        },
        "strokeDash": {
          "field": "station",
          "type": "nominal",
          "scale": {"domain": ["Sordachy", "Sypitki"], "range": [[4, 6], [1, 0]]},
          "legend": {"title": null}
        }
      }
    },
    {
      "data": {"name": "levels"},
      "mark": {"type": "rect", "fill": "white", "stroke": "black", "strokeWidth": 1.5, "yOffset": -29, "y2Offset": -5},
      "encoding": {
        "x": {"datum": {"year": 2000, "month": 6, "date": 15, "utc": true}, "type": "temporal"},
        "x2": {"datum": {"year": 2001, "month": 2, "date": 20, "utc": true}},
        "y": {"field": "level", "type": "quantitative"},
        "y2": {"field": "level"}
      }
    },
    {
      "data": {"name": "levels"},
      "mark": {"type": "text", "align": "left", "baseline": "middle", "dx": 5, "dy": -17, "fontSize": 17, "fontWeight": "bold", "font": "Liberation Sans", "color": "black"},
      "encoding": {
        "x": {"datum": {"year": 2000, "month": 6, "date": 15, "utc": true}, "type": "temporal"},
        "y": {"field": "level", "type": "quantitative"},
        "text": {"field": "label"}
      }
    }
  ]
}
